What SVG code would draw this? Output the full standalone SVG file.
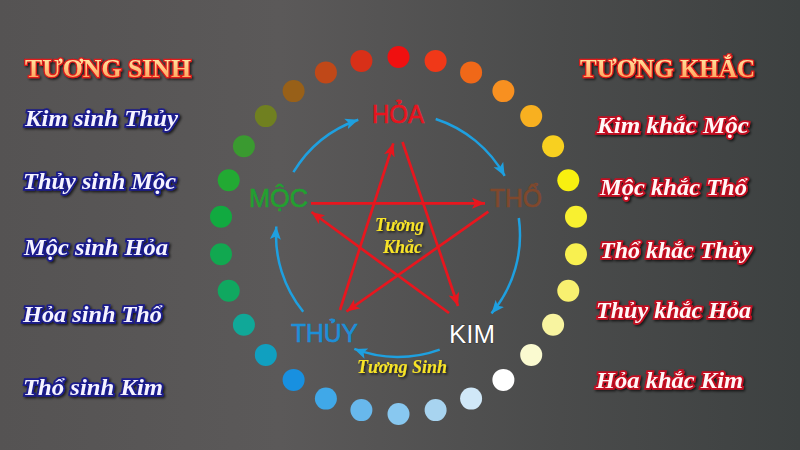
<svg xmlns="http://www.w3.org/2000/svg" width="800" height="450" viewBox="0 0 800 450">
  <defs>
    <linearGradient id="bg" x1="0" y1="0" x2="1" y2="0">
      <stop offset="0" stop-color="#555353"/>
      <stop offset="0.35" stop-color="#5b5959"/>
      <stop offset="0.7" stop-color="#4a4b4b"/>
      <stop offset="1" stop-color="#3d4141"/>
    </linearGradient>
    <linearGradient id="head" x1="0" y1="0" x2="0" y2="1">
      <stop offset="0" stop-color="#fff2b0"/>
      <stop offset="1" stop-color="#ff9a50"/>
    </linearGradient>
    <filter id="sh" x="-10%" y="-30%" width="120%" height="160%">
      <feDropShadow dx="1.5" dy="1.5" stdDeviation="1.2" flood-color="#000" flood-opacity="0.7"/>
    </filter>
    <marker id="ra" markerUnits="userSpaceOnUse" markerWidth="14" markerHeight="12" refX="13" refY="6" orient="auto">
      <path d="M0,0.5 L13,6 L0,11.5 L3,6 Z" fill="#e8161e"/>
    </marker>
    <marker id="ba" markerUnits="userSpaceOnUse" markerWidth="14" markerHeight="12" refX="13" refY="6" orient="auto">
      <path d="M0,0.5 L13,6 L0,11.5 L3,6 Z" fill="#1ea0e0"/>
    </marker>
    <style>
      .hd{font-family:"Liberation Serif",serif;font-weight:bold;font-size:25px;fill:url(#head);stroke:#e01a1a;stroke-width:2.5;paint-order:stroke;filter:url(#sh)}
      .sinh{font-family:"Liberation Serif",serif;font-weight:bold;font-style:italic;font-size:23px;fill:#f6f4ff;stroke:#1a1c8c;stroke-width:3.5;paint-order:stroke;filter:url(#sh)}
      .khac{font-family:"Liberation Serif",serif;font-weight:bold;font-style:italic;font-size:23px;fill:#fff8f8;stroke:#c41020;stroke-width:3.5;paint-order:stroke;filter:url(#sh)}
      .el{font-family:"Liberation Sans",sans-serif;font-size:25px;stroke-width:0.6}
      .yl{font-family:"Liberation Serif",serif;font-weight:bold;font-style:italic;font-size:18px;fill:#f8e428;filter:url(#sh)}
      .red{stroke:#e8161e;stroke-width:2.7;fill:none;marker-end:url(#ra)}
      .blue{stroke:#1ea0e0;stroke-width:2.5;fill:none;marker-end:url(#ba)}
    </style>
  </defs>

  <rect width="800" height="450" fill="url(#bg)"/>

  <g id="dots">
    <circle cx="398.5" cy="57.0" r="11" fill="#f01010"/>
    <circle cx="435.6" cy="60.9" r="11" fill="#f03818"/>
    <circle cx="471.1" cy="72.4" r="11" fill="#f06818"/>
    <circle cx="503.4" cy="91.1" r="11" fill="#f89020"/>
    <circle cx="531.2" cy="116.1" r="11" fill="#f8b020"/>
    <circle cx="553.1" cy="146.3" r="11" fill="#f8d020"/>
    <circle cx="568.3" cy="180.3" r="11" fill="#f8f010"/>
    <circle cx="576.0" cy="216.8" r="11" fill="#f8f030"/>
    <circle cx="576.0" cy="254.2" r="11" fill="#f8f050"/>
    <circle cx="568.3" cy="290.7" r="11" fill="#f8f070"/>
    <circle cx="553.1" cy="324.8" r="11" fill="#f8f4a0"/>
    <circle cx="531.2" cy="354.9" r="11" fill="#fafad0"/>
    <circle cx="503.4" cy="379.9" r="11" fill="#ffffff"/>
    <circle cx="471.1" cy="398.6" r="11" fill="#d0e8f8"/>
    <circle cx="435.6" cy="410.1" r="11" fill="#a8d4f0"/>
    <circle cx="398.5" cy="414.0" r="11" fill="#88c8f0"/>
    <circle cx="361.4" cy="410.1" r="11" fill="#68b8ec"/>
    <circle cx="325.9" cy="398.6" r="11" fill="#40a8e8"/>
    <circle cx="293.6" cy="379.9" r="11" fill="#1890e0"/>
    <circle cx="265.8" cy="354.9" r="11" fill="#10a0c0"/>
    <circle cx="243.9" cy="324.8" r="11" fill="#10a898"/>
    <circle cx="228.7" cy="290.7" r="11" fill="#10a860"/>
    <circle cx="221.0" cy="254.2" r="11" fill="#11a850"/>
    <circle cx="221.0" cy="216.8" r="11" fill="#11aa40"/>
    <circle cx="228.7" cy="180.3" r="11" fill="#22aa33"/>
    <circle cx="243.9" cy="146.3" r="11" fill="#3a9a30"/>
    <circle cx="265.8" cy="116.1" r="11" fill="#708020"/>
    <circle cx="293.6" cy="91.1" r="11" fill="#986018"/>
    <circle cx="325.9" cy="72.4" r="11" fill="#c04818"/>
    <circle cx="361.4" cy="60.9" r="11" fill="#d83018"/>
  </g>

  <g id="connectors">
    <path class="blue" d="M293.4,172.2 A122,122 0 0 1 358.3,119.7"/>
    <path class="blue" d="M435.7,119.0 A122,122 0 0 1 504.7,175.9"/>
    <path class="blue" d="M518.8,218.0 A122,122 0 0 1 491.5,313.4"/>
    <path class="blue" d="M439.7,349.6 A122,122 0 0 1 354.3,348.9"/>
    <path class="blue" d="M303.2,311.8 A122,122 0 0 1 276.3,226.5"/>
    <line class="red" x1="402.5" y1="142" x2="458" y2="306"/>
    <line class="red" x1="449" y1="313" x2="311.5" y2="212"/>
    <line class="red" x1="311" y1="203.3" x2="485" y2="203.3"/>
    <line class="red" x1="488.3" y1="211.7" x2="346.5" y2="311.5"/>
    <line class="red" x1="340" y1="310" x2="393.3" y2="143.3"/>
  </g>

  <g id="hoa"><text class="el" x="372" y="123" textLength="52" lengthAdjust="spacingAndGlyphs" fill="#e8141e" stroke="#e8141e">HỎA</text></g>
  <g id="moc"><text class="el" x="249" y="207" textLength="59" lengthAdjust="spacingAndGlyphs" fill="#22a030" stroke="#22a030">MỘC</text></g>
  <g id="tho"><text class="el" x="490" y="207" textLength="52" lengthAdjust="spacingAndGlyphs" fill="#80482c" stroke="#80482c">THỔ</text></g>
  <g id="thuy"><text class="el" x="291" y="342" textLength="67" lengthAdjust="spacingAndGlyphs" fill="#1d8fd8" stroke="#1d8fd8">THỦY</text></g>
  <g id="kim"><text class="el" x="449" y="343" textLength="46" lengthAdjust="spacingAndGlyphs" fill="#ffffff" stroke="#111" stroke-width="1.4" paint-order="stroke">KIM</text></g>

  <g id="label-khac">
    <text class="yl" x="375" y="231" textLength="49" lengthAdjust="spacingAndGlyphs">Tương</text>
    <text class="yl" x="383" y="253" textLength="39" lengthAdjust="spacingAndGlyphs">Khắc</text>
  </g>
  <g id="label-sinh">
    <text class="yl" x="357" y="373" textLength="90" lengthAdjust="spacingAndGlyphs">Tương Sinh</text>
  </g>

  <g id="list-sinh">
    <text class="hd" x="25" y="77" textLength="166" lengthAdjust="spacingAndGlyphs">TƯƠNG SINH</text>
    <text class="sinh" x="25" y="126" textLength="153" lengthAdjust="spacingAndGlyphs">Kim sinh Thủy</text>
    <text class="sinh" x="23" y="189" textLength="153" lengthAdjust="spacingAndGlyphs">Thủy sinh Mộc</text>
    <text class="sinh" x="24" y="255" textLength="144" lengthAdjust="spacingAndGlyphs">Mộc sinh Hỏa</text>
    <text class="sinh" x="23" y="322" textLength="139" lengthAdjust="spacingAndGlyphs">Hỏa sinh Thổ</text>
    <text class="sinh" x="23" y="395" textLength="140" lengthAdjust="spacingAndGlyphs">Thổ sinh Kim</text>
  </g>

  <g id="list-khac">
    <text class="hd" x="580" y="77" textLength="175" lengthAdjust="spacingAndGlyphs">TƯƠNG KHẮC</text>
    <text class="khac" x="597" y="133" textLength="152" lengthAdjust="spacingAndGlyphs">Kim khắc Mộc</text>
    <text class="khac" x="600" y="195" textLength="147" lengthAdjust="spacingAndGlyphs">Mộc khắc Thổ</text>
    <text class="khac" x="600" y="258" textLength="152" lengthAdjust="spacingAndGlyphs">Thổ khắc Thủy</text>
    <text class="khac" x="596" y="318" textLength="155" lengthAdjust="spacingAndGlyphs">Thủy khắc Hỏa</text>
    <text class="khac" x="596" y="388" textLength="147" lengthAdjust="spacingAndGlyphs">Hỏa khắc Kim</text>
  </g>
</svg>
